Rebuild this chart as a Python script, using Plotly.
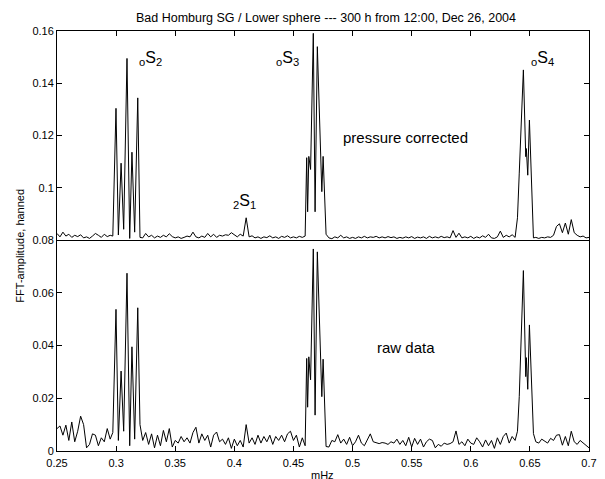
import plotly.graph_objects as go

# Frequency grid (mHz)
freq = [
    0.2500, 0.2525, 0.2550, 0.2575, 0.2600, 0.2625, 0.2650, 0.2675, 0.2700, 0.2725,
    0.2750, 0.2775, 0.2800, 0.2825, 0.2850, 0.2875, 0.2900, 0.2925, 0.2950,
    0.2972, 0.2999, 0.3019, 0.3042, 0.3064, 0.3092, 0.3115, 0.3134, 0.3157, 0.3183, 0.3202,
    0.3225, 0.3250, 0.3275, 0.3300, 0.3325, 0.3350, 0.3375, 0.3400, 0.3425, 0.3450,
    0.3475, 0.3500, 0.3525, 0.3550, 0.3575, 0.3600, 0.3625, 0.3650, 0.3675, 0.3700,
    0.3725, 0.3750, 0.3775, 0.3800, 0.3825, 0.3850, 0.3875, 0.3900, 0.3925, 0.3950,
    0.3975, 0.4000, 0.4025, 0.4050, 0.4075, 0.4100, 0.4125, 0.4150, 0.4175, 0.4200,
    0.4225, 0.4250, 0.4275, 0.4300, 0.4325, 0.4350, 0.4375, 0.4400, 0.4425, 0.4450,
    0.4475, 0.4500, 0.4525, 0.4550, 0.4575,
    0.4599, 0.4612, 0.4620, 0.4630, 0.4645, 0.4668, 0.4683, 0.4702, 0.4740, 0.4751, 0.4776,
    0.4800, 0.4825, 0.4850, 0.4875, 0.4900, 0.4925, 0.4950, 0.4975, 0.5000, 0.5025,
    0.5050, 0.5075, 0.5100, 0.5125, 0.5150, 0.5175, 0.5200, 0.5225, 0.5250, 0.5275,
    0.5300, 0.5325, 0.5350, 0.5375, 0.5400, 0.5425, 0.5450, 0.5475, 0.5500, 0.5525,
    0.5550, 0.5575, 0.5600, 0.5625, 0.5650, 0.5675, 0.5700, 0.5725, 0.5750, 0.5775,
    0.5800, 0.5825, 0.5850, 0.5875, 0.5900, 0.5925, 0.5950, 0.5975, 0.6000, 0.6025,
    0.6050, 0.6075, 0.6100, 0.6125, 0.6150, 0.6175, 0.6200, 0.6225, 0.6250, 0.6275,
    0.6300, 0.6325, 0.6350, 0.6375,
    0.6395, 0.6410, 0.6445, 0.6465, 0.6470, 0.6482, 0.6496, 0.6530,
    0.6550, 0.6575, 0.6600, 0.6625, 0.6650, 0.6675, 0.6700, 0.6725, 0.6750, 0.6775,
    0.6800, 0.6825, 0.6850, 0.6875, 0.6900, 0.6925, 0.6950, 0.6975, 0.7000,
]

# Upper panel: pressure corrected spectrum (as read on the axis, 0.08 .. 0.16)
pressure_corrected = [
    0.0825, 0.0812, 0.0830, 0.0815, 0.0822, 0.0810, 0.0818, 0.0813, 0.0820, 0.0808,
    0.0812, 0.0806, 0.0815, 0.0825, 0.0818, 0.0810, 0.0822, 0.0813, 0.0818,
    0.0815, 0.1304, 0.0819, 0.1094, 0.0841, 0.1495, 0.0806, 0.1136, 0.0830, 0.1344, 0.0810,
    0.0808, 0.0825, 0.0812, 0.0818, 0.0808, 0.0815, 0.0810, 0.0818, 0.0812, 0.0824,
    0.0813, 0.0808, 0.0812, 0.0806, 0.0810, 0.0815, 0.0812, 0.0830, 0.0812, 0.0808,
    0.0815, 0.0810, 0.0825, 0.0812, 0.0822, 0.0810, 0.0818, 0.0815, 0.0820, 0.0818,
    0.0828, 0.0820, 0.0812, 0.0822, 0.0815, 0.0885, 0.0812, 0.0816, 0.0808, 0.0812,
    0.0806, 0.0812, 0.0809, 0.0816, 0.0808, 0.0812, 0.0806, 0.0814, 0.0810, 0.0816,
    0.0808, 0.0812, 0.0808, 0.0814, 0.0810,
    0.0815, 0.1115, 0.0908, 0.1120, 0.1070, 0.1591, 0.0908, 0.1540, 0.0985, 0.1120, 0.0822,
    0.0808, 0.0805, 0.0812, 0.0808, 0.0818, 0.0808, 0.0812, 0.0806, 0.0810, 0.0806,
    0.0812, 0.0808, 0.0814, 0.0808, 0.0812, 0.0810, 0.0814, 0.0808, 0.0812, 0.0808,
    0.0813, 0.0809, 0.0812, 0.0806, 0.0810, 0.0807, 0.0812, 0.0808, 0.0813, 0.0806,
    0.0811, 0.0808, 0.0812, 0.0806, 0.0814, 0.0808, 0.0812, 0.0808, 0.0814, 0.0809,
    0.0812, 0.0808, 0.0836, 0.0810, 0.0826, 0.0808, 0.0812, 0.0808, 0.0814, 0.0806,
    0.0812, 0.0808, 0.0816, 0.0810, 0.0822, 0.0808, 0.0806, 0.0812, 0.0834, 0.0810,
    0.0818, 0.0812, 0.0820, 0.0810,
    0.0885, 0.1056, 0.1451, 0.1119, 0.1150, 0.1048, 0.1259, 0.0808,
    0.0810, 0.0806, 0.0810, 0.0808, 0.0812, 0.0810, 0.0818, 0.0852, 0.0862, 0.0828,
    0.0865, 0.0822, 0.0878, 0.0828, 0.0818, 0.0812, 0.0815, 0.0808, 0.0810,
]

# Lower panel: raw data spectrum
raw_data = [
    0.0085, 0.0095, 0.0060, 0.0098, 0.0040, 0.0110, 0.0035, 0.0075, 0.0132, 0.0100,
    0.0012, 0.0025, 0.0065, 0.0060, 0.0020, 0.0050, 0.0035, 0.0085, 0.0045,
    0.0070, 0.0537, 0.0040, 0.0303, 0.0075, 0.0674, 0.0020, 0.0395, 0.0045, 0.0543, 0.0100,
    0.0040, 0.0070, 0.0025, 0.0065, 0.0012, 0.0060, 0.0020, 0.0078, 0.0035, 0.0085,
    0.0015, 0.0040, 0.0030, 0.0055, 0.0035, 0.0050, 0.0030, 0.0070, 0.0090, 0.0030,
    0.0065, 0.0040, 0.0060, 0.0015, 0.0060, 0.0072, 0.0035, 0.0045, 0.0025, 0.0050,
    0.0010, 0.0045, 0.0020, 0.0040, 0.0015, 0.0100, 0.0030, 0.0050, 0.0025, 0.0060,
    0.0030, 0.0055, 0.0035, 0.0060, 0.0025, 0.0055, 0.0040, 0.0060, 0.0035, 0.0065,
    0.0075, 0.0040, 0.0060, 0.0015, 0.0050,
    0.0020, 0.0351, 0.0166, 0.0357, 0.0270, 0.0766, 0.0136, 0.0755, 0.0206, 0.0348, 0.0017,
    0.0015, 0.0040, 0.0035, 0.0062, 0.0030, 0.0045, 0.0025, 0.0052, 0.0020, 0.0035,
    0.0060, 0.0030, 0.0020, 0.0045, 0.0065, 0.0035, 0.0030, 0.0028, 0.0032, 0.0030,
    0.0025, 0.0035, 0.0030, 0.0045, 0.0025, 0.0040, 0.0020, 0.0052, 0.0015, 0.0048,
    0.0025, 0.0045, 0.0015, 0.0035, 0.0045, 0.0040, 0.0012, 0.0025, 0.0018, 0.0030,
    0.0025, 0.0028, 0.0035, 0.0076, 0.0025, 0.0035, 0.0020, 0.0045, 0.0030, 0.0025,
    0.0050, 0.0035, 0.0015, 0.0042, 0.0020, 0.0040, 0.0010, 0.0050, 0.0025, 0.0055,
    0.0068, 0.0030, 0.0055, 0.0040,
    0.0075, 0.0206, 0.0684, 0.0282, 0.0354, 0.0234, 0.0478, 0.0066,
    0.0035, 0.0030, 0.0045, 0.0038, 0.0030, 0.0048, 0.0040, 0.0060, 0.0062, 0.0022,
    0.0055, 0.0020, 0.0075, 0.0035, 0.0025, 0.0040, 0.0030, 0.0022, 0.0012,
]

x_tickvals = [0.25, 0.3, 0.35, 0.4, 0.45, 0.5, 0.55, 0.6, 0.65, 0.7]
x_ticktext = ["0.25", "0.3", "0.35", "0.4", "0.45", "0.5", "0.55", "0.6", "0.65", "0.7"]
top_tickvals = [0.08, 0.10, 0.12, 0.14, 0.16]
top_ticktext = ["0.08", "0.1", "0.12", "0.14", "0.16"]
bot_tickvals = [0.0, 0.02, 0.04, 0.06]
bot_ticktext = ["0", "0.02", "0.04", "0.06"]

FONT = "Liberation Sans, Arial, Helvetica, sans-serif"

# The page body adds an 8 px offset; the figure is sized so the plot box
# lands where the reference has it (left 57, right 589, top 31, bottom 451).
FIG_W, FIG_H = 597, 471

fig = go.Figure()
fig.add_trace(go.Scatter(x=freq, y=pressure_corrected, xaxis="x2", yaxis="y2",
                         mode="lines", line=dict(color="black", width=1),
                         showlegend=False, hoverinfo="skip"))
fig.add_trace(go.Scatter(x=freq, y=raw_data, xaxis="x", yaxis="y",
                         mode="lines", line=dict(color="black", width=1),
                         showlegend=False, hoverinfo="skip"))

split = 0.5024
axis_common = dict(showline=True, linecolor="black", linewidth=1, ticks="inside",
                   ticklen=5, tickcolor="black", tickwidth=1, showgrid=False,
                   zeroline=False, automargin=False,
                   tickfont=dict(family=FONT, size=11, color="black"))

fig.update_layout(
    width=FIG_W, height=FIG_H,
    margin=dict(l=49, r=16, t=23, b=28, pad=0),
    paper_bgcolor="white", plot_bgcolor="white",
    font=dict(family=FONT, size=11, color="black"),
    xaxis=dict(domain=[0, 1], anchor="y", range=[0.25, 0.7], tickvals=x_tickvals,
               ticktext=x_ticktext, mirror=False, ticklabelstandoff=2, **axis_common),
    xaxis2=dict(domain=[0, 1], anchor="y2", range=[0.25, 0.7], matches="x",
                tickvals=x_tickvals, side="top", showticklabels=False,
                mirror=True, **axis_common),
    yaxis=dict(domain=[0, split], anchor="x", range=[0, 0.08], tickvals=bot_tickvals,
               ticktext=bot_ticktext, mirror="ticks", **axis_common),
    yaxis2=dict(domain=[split, 1], anchor="x2", range=[0.08, 0.16], tickvals=top_tickvals,
                ticktext=top_ticktext, mirror="ticks", **axis_common),
    title=dict(text="Bad Homburg SG / Lower sphere --- 300 h from 12:00, Dec 26, 2004",
               x=0.5056, xref="paper", xanchor="center",
               y=1 - 9.5 / FIG_H, yref="container", yanchor="middle",
               font=dict(family=FONT, size=12.5, color="black")),
)

annotations = [
    dict(text="FFT-amplitude, hanned", xref="paper", yref="paper", x=-0.0695, y=0.489,
         textangle=-90, showarrow=False, xanchor="center", yanchor="middle",
         font=dict(size=11)),
    dict(text="mHz", xref="paper", yref="paper", x=0.499, y=-0.0571,
         showarrow=False, xanchor="center", yanchor="middle", font=dict(size=11)),
    dict(text="pressure corrected", xref="x2", yref="y2", x=0.5444, y=0.1194,
         showarrow=False, xanchor="center", yanchor="middle", font=dict(size=15)),
    dict(text="raw data", xref="x", yref="y", x=0.5453, y=0.0394,
         showarrow=False, xanchor="center", yanchor="middle", font=dict(size=15)),
    dict(text="<sub>o</sub>S<sub>2</sub>", xref="x2", yref="y2", x=0.3287, y=0.1493,
         showarrow=False, xanchor="center", yanchor="middle", font=dict(size=16)),
    dict(text="<sub>o</sub>S<sub>3</sub>", xref="x2", yref="y2", x=0.4446, y=0.1493,
         showarrow=False, xanchor="center", yanchor="middle", font=dict(size=16)),
    dict(text="<sub>o</sub>S<sub>4</sub>", xref="x2", yref="y2", x=0.6603, y=0.1493,
         showarrow=False, xanchor="center", yanchor="middle", font=dict(size=16)),
    dict(text="<sub>2</sub>S<sub>1</sub>", xref="x2", yref="y2", x=0.4090, y=0.0949,
         showarrow=False, xanchor="center", yanchor="middle", font=dict(size=16)),
]
fig.update_layout(annotations=annotations)

fig.write_html("out.html")
